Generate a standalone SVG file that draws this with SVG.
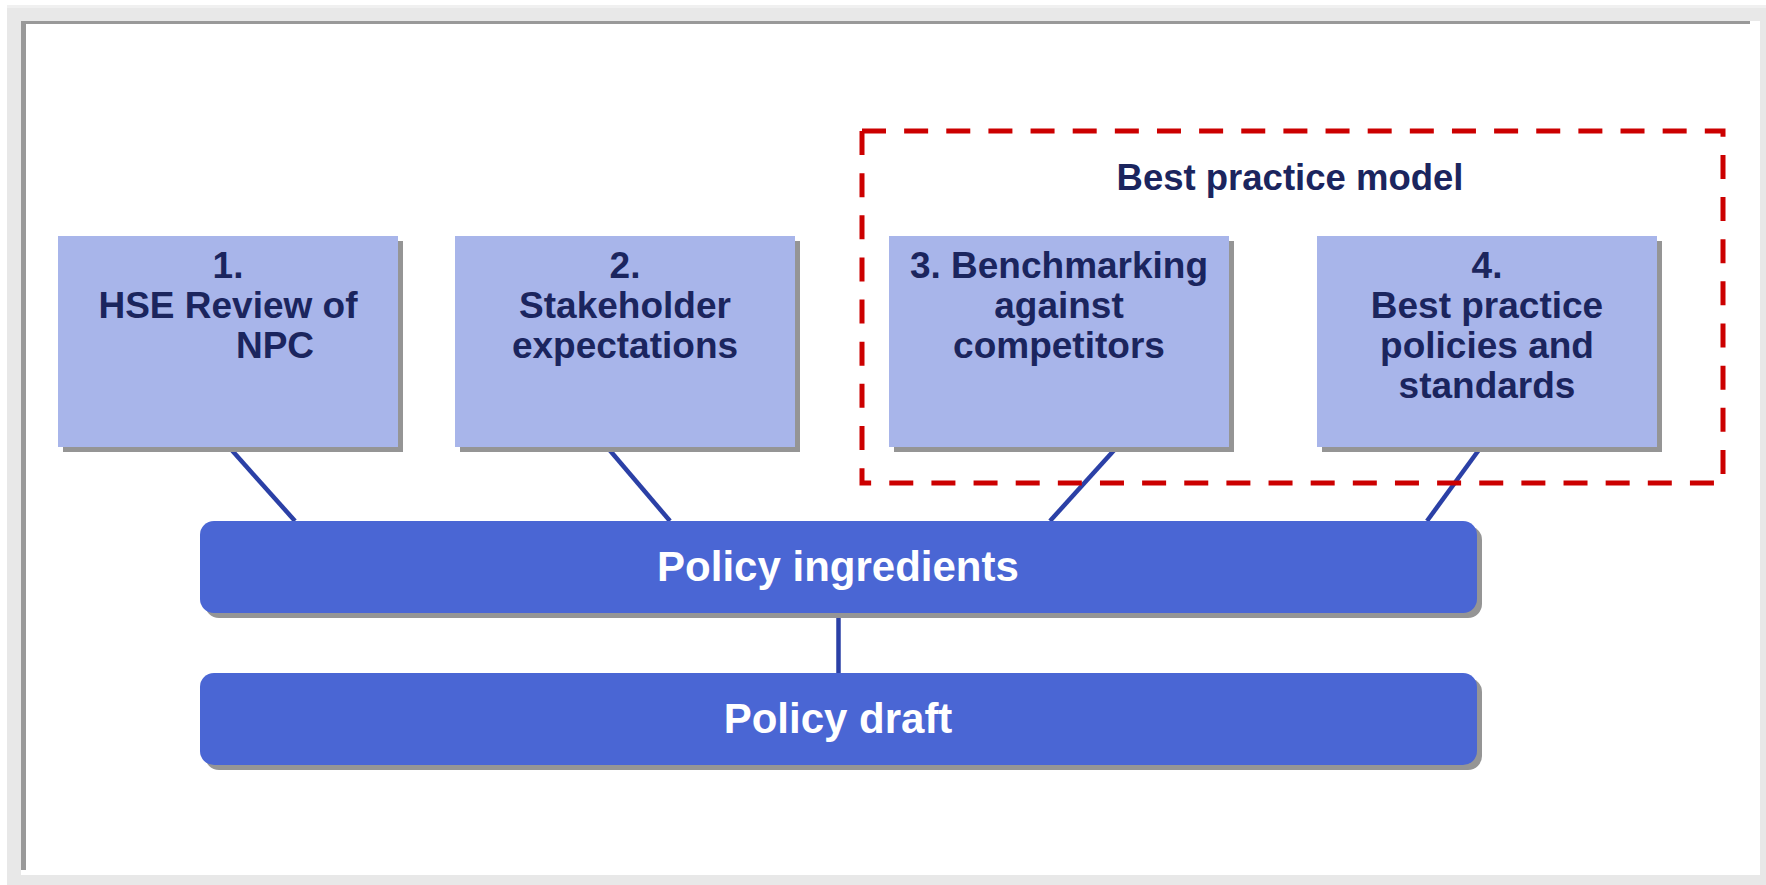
<svg xmlns="http://www.w3.org/2000/svg" width="1766" height="885" viewBox="0 0 1766 885">
<style>
.box{fill:#a8b5ea}
.shadow{fill:#959595}
.big{fill:#4a66d4}
.lbl{font-family:"Liberation Sans",Arial,sans-serif;font-weight:bold;font-size:37px;fill:#1b255e;text-anchor:middle}
.bigl{font-family:"Liberation Sans",Arial,sans-serif;font-weight:bold;font-size:42px;fill:#ffffff;text-anchor:middle}
.conn{stroke:#2b40a6;stroke-width:4.5;fill:none}
</style>
<g id="frame">
<rect x="0" y="0" width="1766" height="885" fill="#ffffff"/>
<rect x="7" y="5" width="1759" height="880" fill="#e8e8e8"/>
<rect x="7" y="5" width="1759" height="3" fill="#f0f0f0"/>
<rect x="21" y="21" width="1739" height="854" fill="#ffffff"/>
<rect x="21" y="21" width="5" height="849" fill="#999999"/>
<rect x="21" y="21" width="1729" height="3" fill="#999999"/>
</g>
<g id="connectors">
<line class="conn" x1="229" y1="447" x2="295" y2="521"/>
<line class="conn" x1="607" y1="447" x2="670" y2="521"/>
<line class="conn" x1="1117" y1="447" x2="1050" y2="521"/>
<line class="conn" x1="1481" y1="447" x2="1427" y2="521"/>
<line class="conn" x1="838.5" y1="613" x2="838.5" y2="673"/>
</g>
<g id="best-practice-model">
<rect x="862" y="131" width="861" height="352" fill="none" stroke="#cc0000" stroke-width="5" stroke-dasharray="24 18.14"/>
<text x="1290" y="189.5" class="lbl" style="font-size:36.5px">Best practice model</text>
</g>
<g id="node1">
<rect class="shadow" x="63" y="241" width="340" height="211"/>
<rect class="box" x="58" y="236" width="340" height="211"/>
<text class="lbl" x="228" y="277.5">1.</text>
<text class="lbl" x="228" y="318">HSE Review of</text>
<text class="lbl" x="275" y="358">NPC</text>
</g>
<g id="node2">
<rect class="shadow" x="460" y="241" width="340" height="211"/>
<rect class="box" x="455" y="236" width="340" height="211"/>
<text class="lbl" x="625" y="277.5">2.</text>
<text class="lbl" x="625" y="318">Stakeholder</text>
<text class="lbl" x="625" y="358">expectations</text>
</g>
<g id="node3">
<rect class="shadow" x="894" y="241" width="340" height="211"/>
<rect class="box" x="889" y="236" width="340" height="211"/>
<text class="lbl" x="1059" y="277.5">3. Benchmarking</text>
<text class="lbl" x="1059" y="318">against</text>
<text class="lbl" x="1059" y="358">competitors</text>
</g>
<g id="node4">
<rect class="shadow" x="1322" y="241" width="340" height="211"/>
<rect class="box" x="1317" y="236" width="340" height="211"/>
<text class="lbl" x="1487" y="277.5">4.</text>
<text class="lbl" x="1487" y="318">Best practice</text>
<text class="lbl" x="1487" y="358">policies and</text>
<text class="lbl" x="1487" y="398">standards</text>
</g>
<g id="policy-ingredients">
<rect class="shadow" x="205" y="526" width="1277" height="92" rx="14"/>
<rect class="big" x="200" y="521" width="1277" height="92" rx="14"/>
<text class="bigl" x="838" y="581">Policy ingredients</text>
</g>
<g id="policy-draft">
<rect class="shadow" x="205" y="678" width="1277" height="92" rx="14"/>
<rect class="big" x="200" y="673" width="1277" height="92" rx="14"/>
<text class="bigl" x="838" y="733">Policy draft</text>
</g>
</svg>
